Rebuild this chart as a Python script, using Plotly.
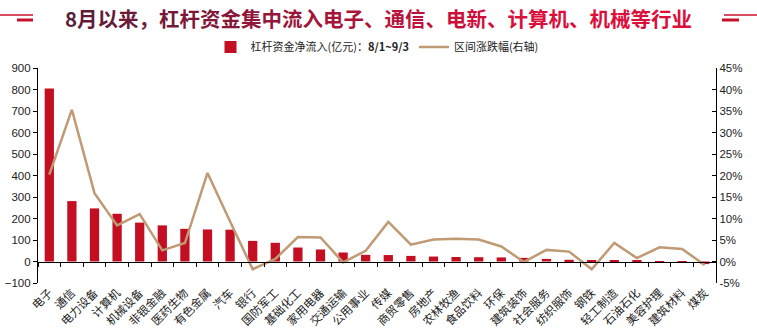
import plotly.graph_objects as go

# 申万一级行业
industries = ["电子", "通信", "电力设备", "计算机", "机械设备", "非银金融", "医药生物", "有色金属",
              "汽车", "银行", "国防军工", "基础化工", "家用电器", "交通运输", "公用事业", "传媒",
              "商贸零售", "房地产", "农林牧渔", "食品饮料", "环保", "建筑装饰", "社会服务", "纺织服饰",
              "钢铁", "轻工制造", "石油石化", "美容护理", "建筑材料", "煤炭"]

# 杠杆资金净流入(亿元)：8/1~9/3
net_inflow = [805, 281, 247, 222, 181, 168, 152, 149, 148, 96, 87, 65, 56, 42, 31, 30,
              26, 23, 21, 20, 19, 17, 12, 8, 5, 4, 3, 2, 1, -12]

# 区间涨跌幅(%)，右轴
pct_change = [20.2, 35.3, 15.9, 8.4, 11.0, 2.6, 4.3, 20.6, 9.3, -1.8, 0.6, 5.7, 5.6, -0.2,
              2.5, 9.2, 3.9, 5.1, 5.3, 5.1, 3.5, -0.1, 2.7, 2.3, -1.8, 4.3, 0.8, 3.3, 2.9, -0.8]

left_ticks = list(range(-100, 901, 100))
right_ticks = list(range(-5, 46, 5))

title_text = "8月以来，杠杆资金集中流入电子、通信、电新、计算机、机械等行业"

BAR_RED = "#C40F22"
LINE_TAN = "#BF9A74"
CJK = "Noto Sans CJK SC"
NUM = "Liberation Sans"

W, H = 757, 336
ML, MR, MT, MB = 38, 41, 68, 53
PW, PH = W - ML - MR, H - MT - MB


def px_x(p):
    return (p - ML) / PW


def px_y(p):
    return 1 + (MT - p) / PH


def gradient_title(text, c0=(0x5A, 0x1C, 0x38), c1=(0xDC, 0x0E, 0x3C)):
    n = len(text)
    parts = []
    for i, ch in enumerate(text):
        t = i / max(n - 1, 1)
        t = min(1.0, t * 1.35)
        r, g, b = (round(a + (bb - a) * t) for a, bb in zip(c0, c1))
        parts.append(f'<span style="color:#{r:02X}{g:02X}{b:02X}">{ch}</span>')
    return "<b>" + "".join(parts) + "</b>"


fig = go.Figure()

fig.add_trace(go.Bar(
    x=industries, y=net_inflow, name="杠杆资金净流入(亿元)：<b>8/1~9/3</b>",
    marker=dict(color=BAR_RED, line=dict(width=0)),
    xaxis="x", yaxis="y",
))
fig.add_trace(go.Scatter(
    x=industries, y=pct_change, name="区间涨跌幅(右轴)", mode="lines",
    line=dict(color=LINE_TAN, width=2.5),
    xaxis="x2", yaxis="y2",
))

cat_range = [-0.5, len(industries) - 0.5]
zero_pos = (0 - left_ticks[0]) / (left_ticks[-1] - left_ticks[0])

fig.update_layout(
    width=W, height=H,
    margin=dict(l=ML, r=MR, t=MT, b=MB, pad=0, autoexpand=False),
    paper_bgcolor="white", plot_bgcolor="white",
    bargap=0.59,
    showlegend=True,
    legend=dict(orientation="h", x=0.5, xanchor="center", y=px_y(47), yanchor="middle",
                font=dict(family=CJK, size=11, color="#222222"),
                itemwidth=30, tracegroupgap=0, bgcolor="rgba(0,0,0,0)"),
    # category axis drawn along the zero line, with boundary ticks
    xaxis=dict(type="category", categoryarray=industries, range=cat_range,
               anchor="free", position=zero_pos, automargin=False,
               showline=True, linecolor="#000000", linewidth=1.2,
               ticks="outside", tickson="boundaries", ticklen=4, tickcolor="#000000",
               showticklabels=False, showgrid=False, zeroline=False, fixedrange=True),
    # category labels along the bottom
    xaxis2=dict(type="category", categoryarray=industries, range=cat_range,
                overlaying="x", anchor="y2", side="bottom", automargin=False,
                showline=False, ticks="", tickangle=-45,
                tickfont=dict(family=CJK, size=11.5, color="#222222"),
                showgrid=False, zeroline=False),
    yaxis=dict(range=[left_ticks[0], left_ticks[-1]], tickvals=left_ticks, automargin=False,
               showline=True, linecolor="#000000", linewidth=1.2,
               ticks="outside", ticklen=4, tickcolor="#000000",
               tickfont=dict(family=NUM, size=11.5, color="#222222"),
               showgrid=False, zeroline=False),
    yaxis2=dict(range=[right_ticks[0], right_ticks[-1]], tickvals=right_ticks,
                ticktext=[f"{v}%" for v in right_ticks], automargin=False,
                overlaying="y", side="right", anchor="x",
                showline=True, linecolor="#000000", linewidth=1.2,
                ticks="inside", ticklen=4, tickcolor="#000000",
                tickfont=dict(family=NUM, size=11.5, color="#222222"),
                showgrid=False, zeroline=False),
)

# heading
fig.add_annotation(
    text=gradient_title(title_text), xref="paper", yref="paper",
    x=px_x(378), y=px_y(18), xanchor="center", yanchor="middle", showarrow=False,
    font=dict(family=CJK, size=20.5, color="#8A1238"),
)

# decorative rules beside the heading
DECOR = "#C8102E"
for x0, x1, y, w in [(0, 33, 15, 1.5), (17, 33, 20, 3), (724, 757, 15, 1.5), (722, 739, 20, 3)]:
    fig.add_shape(type="line", xref="paper", yref="paper",
                  x0=px_x(x0), x1=px_x(x1), y0=px_y(y), y1=px_y(y),
                  line=dict(color=DECOR, width=w))

fig.write_html("out.html")
